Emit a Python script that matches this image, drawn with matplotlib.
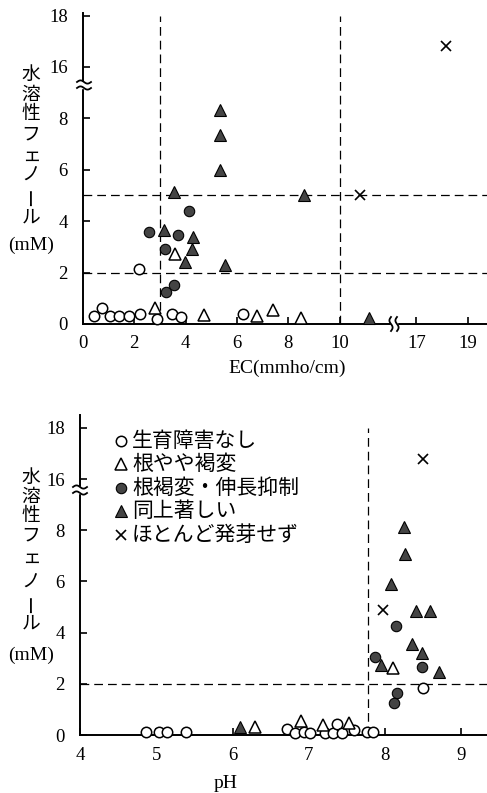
import numpy as np
import matplotlib
matplotlib.use('Agg')
import matplotlib.pyplot as plt

plt.rcParams['font.family'] = ['Liberation Serif', 'Noto Sans CJK JP']
JP = ['Noto Sans CJK JP', 'DejaVu Sans']

# ---- data: EC panel (mmho/cm vs mM) ----
ec_none_x = [0.41, 0.74, 1.04, 1.39, 1.78, 2.23, 2.88, 3.47, 3.82, 6.25, 2.18]
ec_none_y = [0.32, 0.61, 0.32, 0.32, 0.32, 0.37, 0.20, 0.40, 0.27, 0.40, 2.13]
ec_slight_x = [2.79, 3.57, 4.73, 6.78, 7.39, 8.50]
ec_slight_y = [0.61, 2.72, 0.35, 0.32, 0.55, 0.24]
ec_brown_x = [2.56, 3.70, 4.12, 3.21, 3.25, 3.53]
ec_brown_y = [3.59, 3.46, 4.41, 2.92, 1.26, 1.52]
ec_severe_x = [5.33, 5.35, 5.35, 3.53, 8.63, 3.17, 4.29, 4.25, 3.96, 5.52, 11.14]
ec_severe_y = [8.33, 7.35, 5.99, 5.15, 5.02, 3.66, 3.40, 2.90, 2.42, 2.30, 0.25]
ec_nogerm_x = [10.8, 18.15]
ec_nogerm_y = [5.0, 16.8]

# ---- data: pH panel ----
ph_none_x = [4.87, 5.03, 5.14, 5.39, 6.71, 6.82, 6.93, 7.02, 7.21, 7.32, 7.37, 7.43,
             7.59, 7.76, 7.84, 8.50]
ph_none_y = [0.13, 0.13, 0.13, 0.13, 0.23, 0.09, 0.13, 0.09, 0.09, 0.09, 0.44, 0.09,
             0.20, 0.13, 0.13, 1.82]
ph_slight_x = [6.29, 6.89, 7.18, 7.52, 8.10]
ph_slight_y = [0.30, 0.55, 0.41, 0.48, 2.60]
ph_brown_x = [8.14, 7.86, 8.48, 8.16, 8.11]
ph_brown_y = [4.27, 3.03, 2.67, 1.63, 1.24]
ph_severe_x = [6.10, 8.25, 8.26, 8.08, 8.40, 8.59, 8.35, 8.48, 7.95, 8.71]
ph_severe_y = [0.30, 8.11, 7.07, 5.90, 4.86, 4.86, 3.55, 3.19, 2.73, 2.47]
ph_nogerm_x = [8.50, 7.97]
ph_nogerm_y = [16.77, 4.88]

labels = ['生育障害なし', '根やや褐変', '根褐変・伸長抑制', '同上著しい', 'ほとんど発芽せず']
y_ticks = [0, 2, 4, 6, 8, 16, 18]
ec_ticks = [0, 2, 4, 6, 8, 10, 17, 19]
ph_ticks = [4, 5, 6, 7, 8, 9]


def ybreak(v):
    # values above the break are shifted down (8 -> 16 gap)
    v = np.asarray(v, dtype=float)
    return np.where(v > 10, v - 6, v)


def xbreak(v):
    v = np.asarray(v, dtype=float)
    return np.where(v > 12, v - 4, v)


W, H = 487, 793
fig = plt.figure(figsize=(W / 100, H / 100), dpi=100)


def px_axes(x0, y0, x1, y1):
    # pixel box (left, top, right, bottom) -> axes
    return fig.add_axes([x0 / W, 1 - y1 / H, (x1 - x0) / W, (y1 - y0) / H])


styles = [
    dict(marker='o', ms=7.5, mfc='white', mec='black', mew=1.1),
    dict(marker='^', ms=8.5, mfc='white', mec='black', mew=1.1),
    dict(marker='o', ms=7.5, mfc='#444444', mec='black', mew=0.8),
    dict(marker='^', ms=9, mfc='#444444', mec='black', mew=0.8),
    dict(marker='x', ms=7, mfc='black', mec='black', mew=1.2),
]


def style_axes(ax):
    for s in ['top', 'right']:
        ax.spines[s].set_visible(False)
    for s in ['left', 'bottom']:
        ax.spines[s].set_linewidth(1.4)
    ax.tick_params(direction='in', length=5, width=1.2, labelsize=13.5)
    ax.tick_params(axis='y', pad=11)
    ax.tick_params(axis='x', pad=8)
    ax.set_yticks(ybreak(y_ticks))
    ax.set_yticklabels([str(t) for t in y_ticks])


dash = dict(color='black', lw=0.9, ls=(0, (7, 4)), zorder=1)

# ---- top panel: EC ----
ax1 = px_axes(83, 13, 487, 324)
ax1.set_xlim(0, 15.75)
ax1.set_ylim(0, 12.1)
style_axes(ax1)
ax1.set_xticks(xbreak(ec_ticks))
ax1.set_xticklabels([str(t) for t in ec_ticks])
ax1.vlines([3, 10], 0, 12.0, **dash)
ax1.hlines([5, 2], 0, 15.75, **dash)
top_sets = [(ec_none_x, ec_none_y), (ec_slight_x, ec_slight_y), (ec_brown_x, ec_brown_y),
            (ec_severe_x, ec_severe_y), (ec_nogerm_x, ec_nogerm_y)]
for (xs, ys), st in zip(top_sets, styles):
    ax1.plot(xbreak(xs), ybreak(ys), ls='none', zorder=3, clip_on=False, **st)

# ---- bottom panel: pH ----
ax2 = px_axes(80, 415, 487, 735)
ax2.set_xlim(4, 4 + 407 / 76.3)
ax2.set_ylim(0, 12.5)
style_axes(ax2)
ax2.tick_params(axis='x', pad=9)
ax2.set_xticks(ph_ticks)
ax2.set_xticklabels([str(t) for t in ph_ticks])
ax2.vlines([7.78], 0, 12.0, **dash)
ax2.hlines([2], 4, 4 + 407 / 76.3, **dash)
bot_sets = [(ph_none_x, ph_none_y), (ph_slight_x, ph_slight_y), (ph_brown_x, ph_brown_y),
            (ph_severe_x, ph_severe_y), (ph_nogerm_x, ph_nogerm_y)]
for (xs, ys), st in zip(bot_sets, styles):
    ax2.plot(xs, ybreak(ys), ls='none', zorder=3, clip_on=False, **st)

# ---- overlay in pixel coordinates for labels, legend and break marks ----
ov = fig.add_axes([0, 0, 1, 1], zorder=10)
ov.set_xlim(0, W)
ov.set_ylim(H, 0)
ov.axis('off')
ov.patch.set_alpha(0)


def vlabel(x, ys):
    chars = ['水', '溶', '性', 'フ', 'ェ', 'ノ', 'ー', 'ル']
    for ch, y in zip(chars, ys[:-1]):
        rot = 90 if ch == 'ー' else 0
        ov.text(x, y, ch, family=JP, fontsize=13.5, ha='center', va='center', rotation=rot)
    ov.text(x, ys[-1], '(mM)', fontsize=14, ha='center', va='center')


vlabel(31, [74, 94, 114, 134, 155, 175, 197, 217, 245])
vlabel(31, [477, 496, 515, 535, 557, 582, 604, 623, 655])

ov.text(287, 368, 'EC(mmho/cm)', fontsize=14, ha='center', va='center')
ov.text(226, 783, 'pH', fontsize=14, ha='center', va='center')


def wavy_h(xc, yc):
    # break mark across a vertical axis
    ov.add_patch(plt.Rectangle((xc - 6, yc - 3), 12, 6, color='white', zorder=11))
    t = np.linspace(-7, 7, 40)
    for dy in (-3, 3):
        ov.plot(xc + t, yc + dy + 1.6 * np.sin(t * np.pi / 7), color='black', lw=1.3, zorder=12)


def wavy_v(xc, yc):
    # break mark across a horizontal axis
    ov.add_patch(plt.Rectangle((xc - 3, yc - 6), 6, 12, color='white', zorder=11))
    t = np.linspace(-7, 7, 40)
    for dx in (-3, 3):
        ov.plot(xc + dx + 1.6 * np.sin(t * np.pi / 7), yc + t, color='black', lw=1.3, zorder=12)


wavy_h(84, 85)
wavy_h(80, 490)
wavy_v(394, 324)

# legend drawn as marker + text lines
leg_y = [441, 464, 488, 511, 535]
for st, lab, y in zip(styles, labels, leg_y):
    ov.plot([121], [y], ls='none', zorder=12, **st)
    ov.text(132, y, lab, family=JP, fontsize=15, ha='left', va='center')

fig.savefig('out.png', dpi=100)
